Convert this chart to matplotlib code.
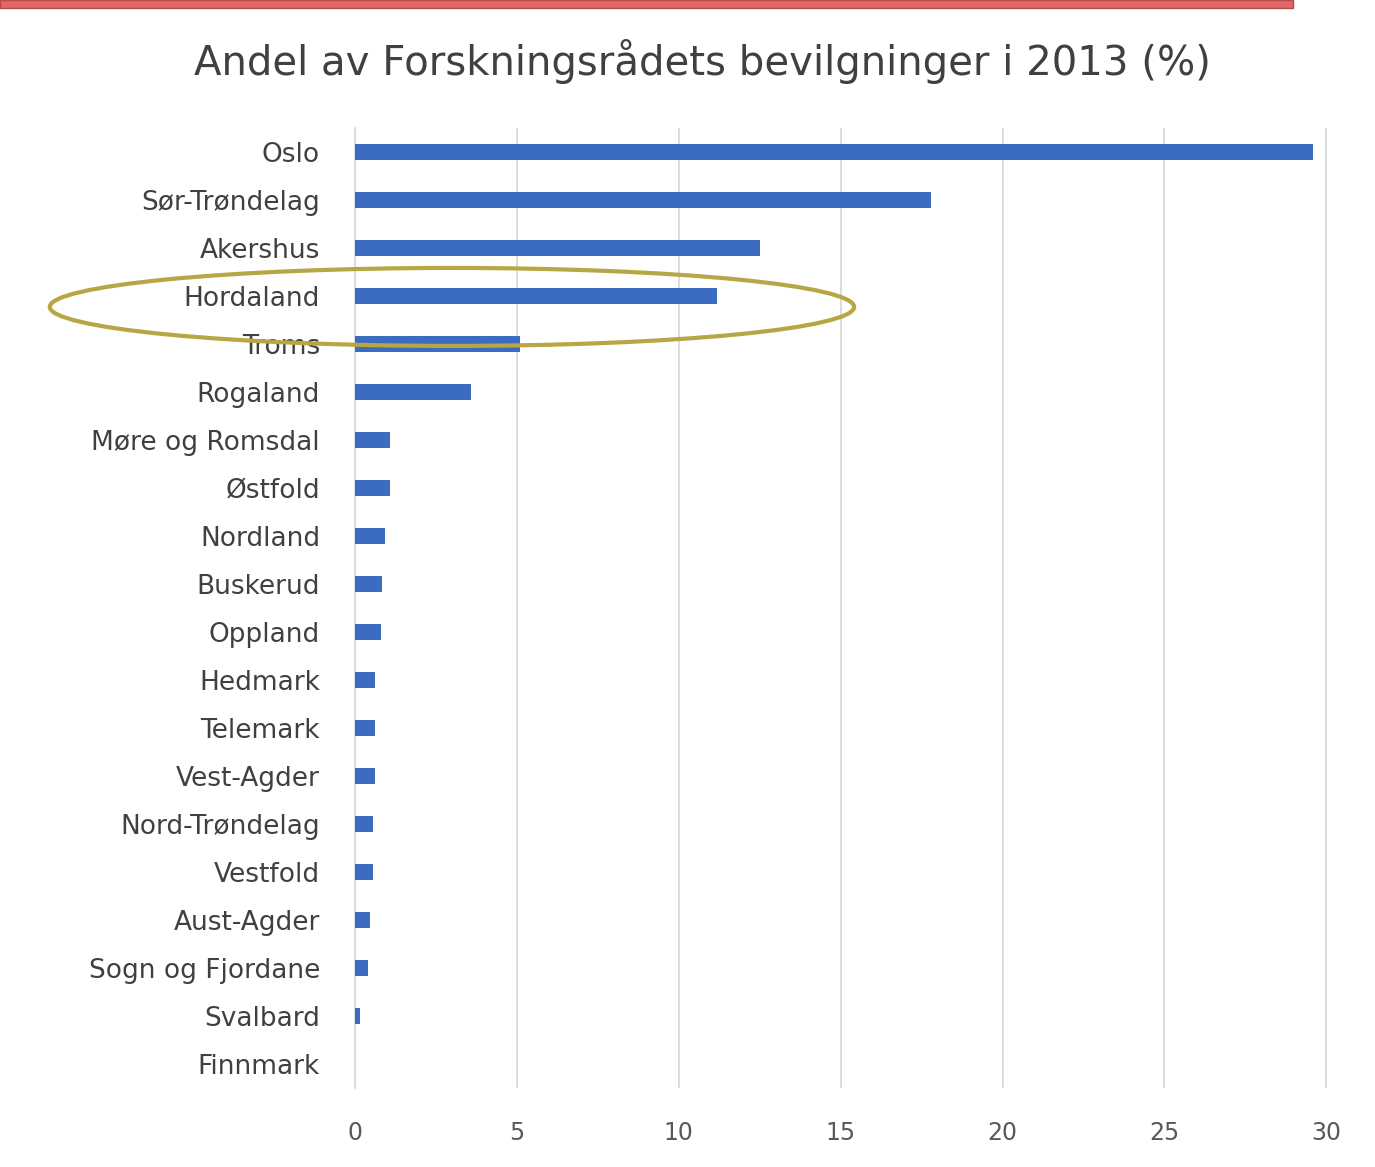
import numpy as np
import matplotlib.pyplot as plt
from matplotlib.patches import Ellipse, Rectangle

# fylker og andel (%) av bevilgningene, lest av figuren
fylker = ["Oslo", "Sør-Trøndelag", "Akershus", "Hordaland", "Troms", "Rogaland",
          "Møre og Romsdal", "Østfold", "Nordland", "Buskerud", "Oppland",
          "Hedmark", "Telemark", "Vest-Agder", "Nord-Trøndelag", "Vestfold",
          "Aust-Agder", "Sogn og Fjordane", "Svalbard", "Finnmark"]
andel = [29.6, 17.8, 12.5, 11.2, 5.1, 3.6, 1.1, 1.1, 0.93, 0.85, 0.8,
         0.62, 0.62, 0.62, 0.56, 0.56, 0.46, 0.4, 0.15, 0.02]
xticks = [0, 5, 10, 15, 20, 25, 30]

fig = plt.figure(figsize=(13.75, 11.67), dpi=100)
ax = fig.add_axes([0.258, 0.068, 0.709, 0.822])

y = np.arange(len(fylker))
ax.barh(y, andel, height=0.33, color="#3b6cc0", zorder=3)
ax.set_yticks(y)
ax.set_yticklabels(fylker, fontsize=19, color="#404040")
ax.set_ylim(len(fylker) - 0.5, -0.5)

ax.set_xlim(0, 30.1)
ax.set_xticks(xticks)
ax.set_xticklabels([str(t) for t in xticks], fontsize=17, color="#595959")
ax.tick_params(axis="y", length=0, pad=25)
ax.tick_params(axis="x", length=0, pad=24)
ax.grid(axis="x", color="#d9d9d9", linewidth=1.3, zorder=0)
for s in ["top", "right", "bottom"]:
    ax.spines[s].set_visible(False)
ax.spines["left"].set_color("#d9d9d9")
ax.spines["left"].set_linewidth(1.3)

fig.text(0.511, 0.947, "Andel av Forskningsrådets bevilgninger i 2013 (%)",
         ha="center", va="center", fontsize=29, color="#404040")

# rød stripe øverst
fig.patches.append(Rectangle((0, 0.993), 0.94, 0.007, transform=fig.transFigure,
                             facecolor="#e36666", edgecolor="#b84c4c", linewidth=1))

# ring rundt Hordaland
fig.patches.append(Ellipse((0.3287, 0.737), 0.585, 0.0668, transform=fig.transFigure,
                           fill=False, edgecolor="#b8a544", linewidth=3, zorder=5))

plt.savefig("out.png", dpi=100)
